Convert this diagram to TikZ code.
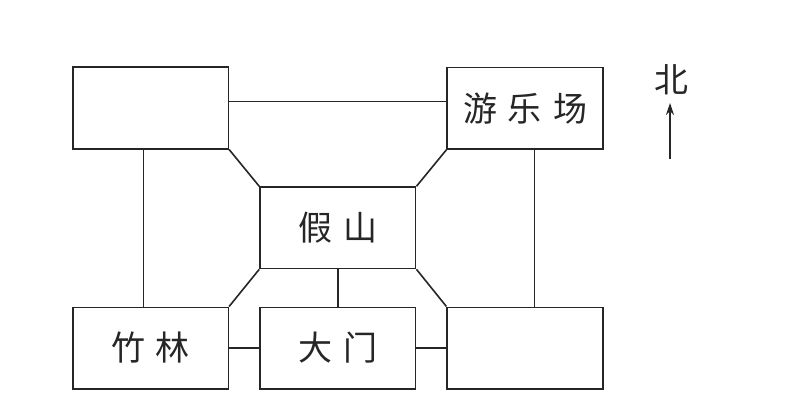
\documentclass[tikz,border=0pt]{standalone}
\usepackage{fontspec}
\newfontfamily\cjk{Noto Sans CJK SC}
\usetikzlibrary{arrows.meta}
\begin{document}
\begin{tikzpicture}[x=0.5pt, y=-0.5pt, line width=0.8pt, color=black!85,
    place/.style={draw, minimum width=77.8pt, minimum height=40.7pt, inner sep=0pt,
      font=\cjk\fontsize{17}{20}\selectfont}]
  \path[use as bounding box] (0,0) rectangle (807,401);

  % the six places
  \node[place] (nw) at (150.5,108) {};
  \node[place] (ylc) at (525,108.3) {游\hspace{5.5pt}乐\hspace{5.5pt}场};
  \node[place] (js) at (337.85,227.8) {假\hspace{5.5pt}山};
  \node[place] (zl) at (150.5,348) {竹\hspace{5.5pt}林};
  \node[place] (dm) at (337.85,348) {大\hspace{5.5pt}门};
  \node[place] (se) at (525,348) {};

  % paths
  \draw ([yshift=3.15pt]nw.east) -- ([yshift=3.15pt]nw.east -| ylc.west);
  \draw ([xshift=-3.6pt]nw.south) -- ([xshift=-3.6pt]nw.south |- zl.north);
  \draw ([xshift=4.65pt]ylc.south) -- ([xshift=4.65pt]ylc.south |- se.north);
  \draw (nw.south east) -- (js.north west);
  \draw (ylc.south west) -- (js.north east);
  \draw (js.south west) -- (zl.north east);
  \draw (js.south east) -- (se.north west);
  \draw (js) -- (dm);
  \draw (zl) -- (dm);
  \draw (dm) -- (se);

  % north arrow
  \node[font=\cjk\fontsize{17}{20}\selectfont, inner sep=0pt] (bei) at (671.5,80) {北};
  \coordinate (tail) at (670,159);
  \draw[-{Stealth[length=6pt, width=4pt]}] (tail) -- ([yshift=-3.5pt]tail |- bei.south);
\end{tikzpicture}
\end{document}
